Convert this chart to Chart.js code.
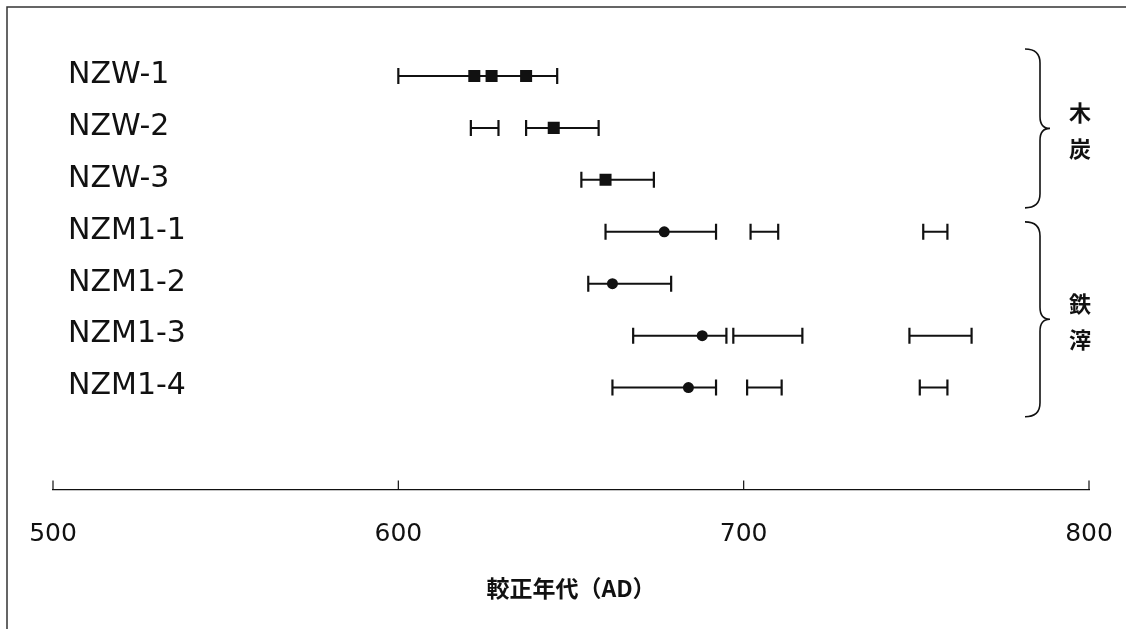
<!doctype html>
<html lang="ja">
<head>
  <meta charset="utf-8" />
  <title>較正年代</title>
  <style>
    *{box-sizing:border-box}
    html,body{margin:0;padding:0;background:#fff}
    .wrap{position:relative;width:1126px;height:629px}
  </style>
  <script src="https://cdn.jsdelivr.net/npm/chart.js@4.4.1/dist/chart.umd.min.js"></script>
</head>
<body>
  <div class="wrap"><canvas id="c" width="1126" height="629"></canvas></div>

<script>
// sample names, top to bottom
const samples = ["NZW-1", "NZW-2", "NZW-3", "NZM1-1", "NZM1-2", "NZM1-3", "NZM1-4"];
// calibrated age ranges (AD), one or more per sample
const rangeLo = [[600], [621, 637], [653], [660, 702, 752], [655], [668, 697, 748], [662, 701, 751]];
const rangeHi = [[646], [629, 658], [674], [692, 710, 759], [679], [695, 717, 766], [692, 711, 759]];
// peak marks inside the ranges
const peaks = [[622, 627, 637], [645], [660], [677], [662], [688], [684]];
// 木炭 = squares, 鉄滓 = circles
const groupNames = [["木", "炭"], ["鉄", "滓"]];
const groupRows = [[0, 2], [3, 6]];
const xTicks = [500, 600, 700, 800];
const xTitle = "較正年代（AD）";

const ink = "#111";
const isWood = i => i <= groupRows[0][1];

const datasets = [];
const peakPts = [];
peaks.forEach((row, i) => row.forEach(v => peakPts.push({ x: v, y: i })));
datasets.push({
  data: peakPts,
  pointStyle: ctx => isWood(ctx.raw.y) ? "rect" : "circle",
  pointRadius: ctx => isWood(ctx.raw.y) ? 8.5 : 5.5,
  backgroundColor: ink, borderColor: ink, borderWidth: 0, showLine: false
});
rangeLo.forEach((row, i) => row.forEach((lo, k) => {
  datasets.push({
    data: [{ x: lo, y: i }, { x: rangeHi[i][k], y: i }],
    showLine: true, borderColor: ink, borderWidth: 2,
    pointStyle: "line", rotation: 90, pointRadius: 8,
    pointBorderColor: ink, pointBorderWidth: 2.2
  });
}));

const decor = {
  id: "decor",
  beforeDraw(chart) {
    const c = chart.ctx;
    c.save();
    c.fillStyle = "#fff";
    c.fillRect(0, 0, chart.width, chart.height);
    // page frame (left + top edge)
    c.strokeStyle = "#333"; c.lineWidth = 1.5;
    c.beginPath(); c.moveTo(7, chart.height + 5); c.lineTo(7, 7); c.lineTo(chart.width + 5, 7); c.stroke();
    c.restore();
  },
  afterDraw(chart) {
    const c = chart.ctx, xs = chart.scales.x, ys = chart.scales.y;
    const ca = chart.chartArea;
    c.save();
    // upward tick marks on the axis
    c.strokeStyle = ink; c.lineWidth = 1.2;
    xTicks.forEach(t => {
      const px = xs.getPixelForValue(t);
      c.beginPath(); c.moveTo(px, ca.bottom); c.lineTo(px, ca.bottom - 9); c.stroke();
    });
    // sample labels
    c.fillStyle = ink; c.textBaseline = "middle"; c.textAlign = "left";
    c.font = "30px 'DejaVu Sans', sans-serif";
    samples.forEach((s, i) => c.fillText(s, 68, ys.getPixelForValue(i) - 1));
    // braces and group names
    const spans = [[-0.52, 2.54], [2.81, 6.56]];
    c.lineWidth = 1.6;
    spans.forEach((sp, g) => {
      const y0 = ys.getPixelForValue(sp[0]), y1 = ys.getPixelForValue(sp[1]);
      const ym = (y0 + y1) / 2, x0 = 1025, xm = 1040, xt = 1050;
      c.beginPath();
      c.moveTo(x0, y0);
      c.quadraticCurveTo(xm, y0, xm, y0 + 14);
      c.lineTo(xm, ym - 12);
      c.quadraticCurveTo(xm, ym, xt, ym);
      c.quadraticCurveTo(xm, ym, xm, ym + 12);
      c.lineTo(xm, y1 - 14);
      c.quadraticCurveTo(xm, y1, x0, y1);
      c.stroke();
      c.font = "bold 22px 'Noto Sans CJK JP', sans-serif";
      c.textAlign = "center";
      const name = groupNames[g];
      c.fillText(name[0], 1080, ym - 16);
      c.fillText(name[1], 1080, ym + 20);
    });
    c.restore();
  }
};

new Chart(document.getElementById("c"), {
  type: "scatter",
  data: { datasets },
  plugins: [decor],
  options: {
    responsive: false, animation: false,
    layout: { padding: { left: 53, right: 37, top: 24, bottom: 27 } },
    plugins: { legend: { display: false }, tooltip: { enabled: false } },
    scales: {
      x: {
        type: "linear", min: 500, max: 800,
        afterBuildTicks: s => { s.ticks = xTicks.map(v => ({ value: v })); },
        grid: { display: true, drawOnChartArea: false, drawTicks: true, tickLength: 24, tickColor: "rgba(0,0,0,0)" },
        border: { display: true, color: ink, width: 1.2 },
        ticks: { padding: 6, color: ink, font: { family: "'DejaVu Sans', sans-serif", size: 25 } },
        title: {
          display: true, text: xTitle, color: ink,
          font: { family: "'Noto Sans CJK JP', sans-serif", size: 23, weight: "bold" },
          padding: { top: 19, bottom: 0 }
        }
      },
      y: { type: "linear", reverse: true, min: -1, max: 7.96, display: false }
    }
  }
});
</script>
</body>
</html>
